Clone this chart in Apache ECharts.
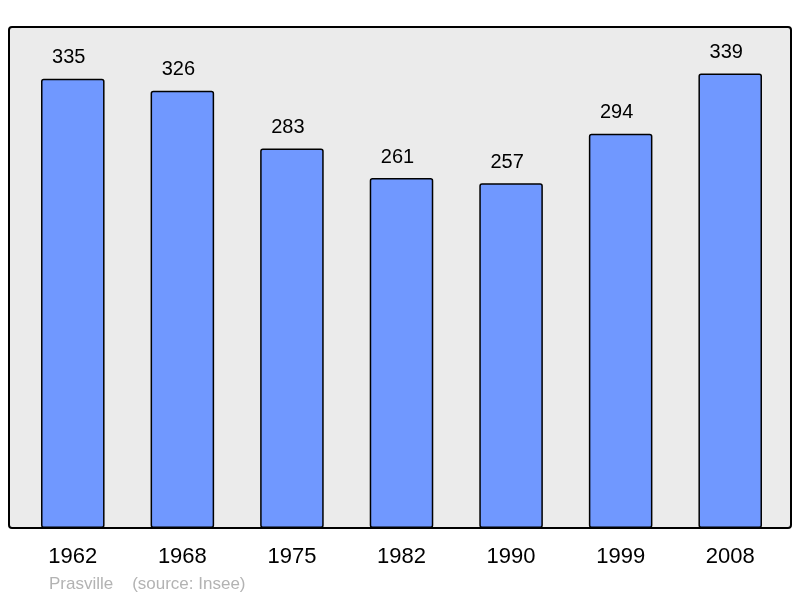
<!DOCTYPE html>
<html>
<head>
<meta charset="utf-8">
<script src="https://cdn.jsdelivr.net/npm/echarts@6/dist/echarts.min.js"></script>
<style>
	html, body { margin: 0; padding: 0; background: #fff; }
	#chart { width: 800px; height: 598px; }
</style>
</head>
<body>
<div id="chart"></div>
<script>
	var years = ["1962", "1968", "1975", "1982", "1990", "1999", "2008"];
	var population = [335, 326, 283, 261, 257, 294, 339];
	var footer = "Prasville    (source: Insee)";

	var ec = echarts.init(document.getElementById("chart"));

	ec.setOption({
		animation: false,
		graphic: [{
			type: "rect",
			z: -10,
			shape: { x: 9, y: 27, width: 782, height: 501, r: 3 },
			style: { fill: "#ebebeb", stroke: "#000", lineWidth: 2 }
		}, {
			type: "text",
			left: 49,
			top: 576,
			style: {
				text: footer,
				fill: "#b3b3b3",
				font: "17px 'Liberation Sans', Arial, sans-serif"
			}
		}],
		grid: {
			left: 18,
			right: 15,
			top: 27,
			bottom: 70
		},
		xAxis: {
			type: "category",
			data: years,
			axisLine: { show: false },
			axisTick: { show: false },
			axisLabel: {
				margin: 18,
				fontSize: 22,
				color: "#000",
				fontFamily: "'Liberation Sans', Arial, sans-serif"
			}
		},
		yAxis: {
			type: "value",
			min: 0,
			max: 373.6,
			show: false,
			splitLine: { show: false }
		},
		series: [{
			type: "bar",
			data: population,
			barWidth: "58%",
			itemStyle: {
				color: "#7098ff",
				borderColor: "#000",
				borderWidth: 1.5,
				borderRadius: 2
			},
			label: {
				show: true,
				position: "top",
				distance: 11,
				offset: [-4, 0],
				fontSize: 20,
				color: "#000",
				fontFamily: "'Liberation Sans', Arial, sans-serif"
			}
		}]
	});
</script>
</body>
</html>
